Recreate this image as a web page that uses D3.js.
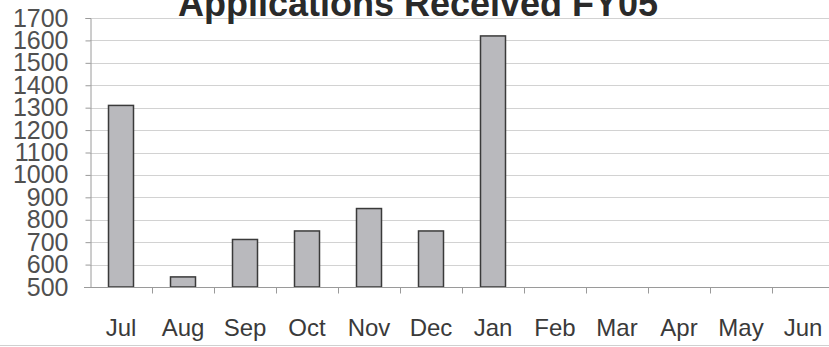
<!DOCTYPE html>
<html>
<head>
<meta charset="utf-8">
<script src="https://cdn.jsdelivr.net/npm/d3@7"></script>
<style>
  html, body { margin: 0; padding: 0; background: #ffffff; }
  svg { display: block; }
</style>
</head>
<body>
<svg id="chart" width="829" height="347"></svg>
<script>
// Monthly application counts for fiscal year 2005 (Feb–Jun not yet reported)
const months = ["Jul", "Aug", "Sep", "Oct", "Nov", "Dec", "Jan", "Feb", "Mar", "Apr", "May", "Jun"];
const applications = [1310, 545, 712, 750, 850, 750, 1620, null, null, null, null, null];
const yTicks = [500, 600, 700, 800, 900, 1000, 1100, 1200, 1300, 1400, 1500, 1600, 1700];
const chartTitle = "Applications Received FY05";

(function () {
  const svg = d3.select("#chart");
  const W = 829;
  const plotLeft = 90, plotTop = 18, plotBottom = 287;

  const x = d3.scaleBand().domain(months).range([plotLeft, plotLeft + 62 * months.length]).padding(0);
  const y = d3.scaleLinear().domain([500, 1700]).range([plotBottom, plotTop]);

  // horizontal gridlines
  svg.append("g")
    .selectAll("line")
    .data(yTicks.filter(t => t > 500))
    .join("line")
    .attr("x1", plotLeft).attr("x2", W)
    .attr("y1", d => Math.round(y(d)) + 0.5)
    .attr("y2", d => Math.round(y(d)) + 0.5)
    .attr("stroke", "#d2d2d2")
    .attr("stroke-width", 1);

  // y axis
  const yAxis = svg.append("g")
    .attr("transform", `translate(${plotLeft + 0.5},0)`)
    .call(d3.axisLeft(y).tickValues(yTicks).tickSize(5).tickPadding(17).tickFormat(d3.format("d")));
  yAxis.select(".domain").attr("stroke", "#9a9a9a");
  yAxis.selectAll(".tick line").attr("stroke", "#9a9a9a");
  yAxis.selectAll(".tick text")
    .attr("font-family", "'Liberation Sans', Arial, sans-serif")
    .attr("font-size", 25)
    .attr("fill", "#505050");

  // bars
  const barW = 25;
  svg.append("g")
    .selectAll("rect")
    .data(months.map((m, i) => ({ m, v: applications[i] })).filter(d => d.v != null))
    .join("rect")
    .attr("x", d => x(d.m) + x.bandwidth() / 2 - barW / 2)
    .attr("y", d => y(d.v))
    .attr("width", barW)
    .attr("height", d => y(500) - y(d.v))
    .attr("fill", "#b9b9bd")
    .attr("stroke", "#3a3a3a")
    .attr("stroke-width", 1.5);

  // x axis with ticks between categories
  const xAxisG = svg.append("g").attr("transform", `translate(0,${plotBottom + 0.5})`);
  xAxisG.append("line")
    .attr("x1", plotLeft - 6).attr("x2", W)
    .attr("stroke", "#9a9a9a");
  xAxisG.selectAll("line.tick")
    .data(months.slice(1))
    .join("line")
    .attr("class", "tick")
    .attr("x1", d => Math.round(x(d)) + 0.5)
    .attr("x2", d => Math.round(x(d)) + 0.5)
    .attr("y1", 0).attr("y2", 6)
    .attr("stroke", "#9a9a9a");
  xAxisG.selectAll("text")
    .data(months)
    .join("text")
    .attr("x", d => x(d) + x.bandwidth() / 2)
    .attr("y", 48)
    .attr("text-anchor", "middle")
    .attr("font-family", "'Liberation Sans', Arial, sans-serif")
    .attr("font-size", 24)
    .attr("fill", "#3a3a3a")
    .text(d => d);

  // frame edge at the bottom
  svg.append("line")
    .attr("x1", 0).attr("x2", W)
    .attr("y1", 345.5).attr("y2", 345.5)
    .attr("stroke", "#d0d0d0");

  // title
  svg.append("text")
    .attr("x", 418)
    .attr("y", 16)
    .attr("text-anchor", "middle")
    .attr("font-family", "'Liberation Sans', Arial, sans-serif")
    .attr("font-weight", "bold")
    .attr("font-size", 36)
    .attr("fill", "#2a2a2a")
    .text(chartTitle);
})();
</script>
</body>
</html>
